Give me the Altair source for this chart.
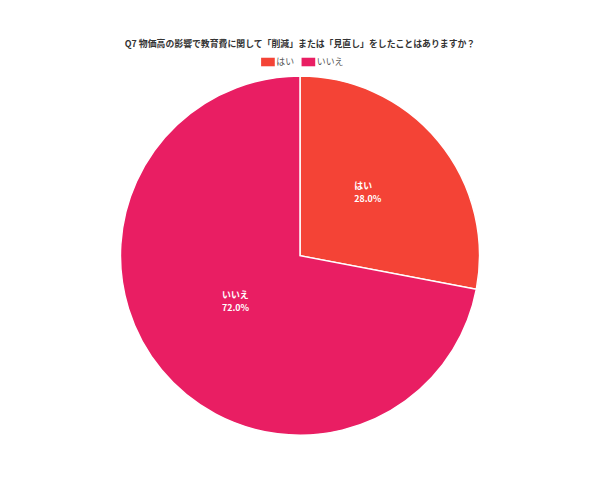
import altair as alt
import pandas as pd

categories = ["はい", "いいえ"]
values = [28.0, 72.0]
colors = ["#F44336", "#E91E63"]

df = pd.DataFrame({
    "answer": categories,
    "value": values,
    "order": list(range(len(categories))),
    "label": [f"{c}\n{v:.1f}%" for c, v in zip(categories, values)],
})

FONT = "Noto Sans CJK JP"

base = alt.Chart(df).encode(
    theta=alt.Theta("value:Q", stack=True),
    order=alt.Order("order:Q"),
)

pie = base.mark_arc(radius=182, stroke="white", strokeWidth=1.5).encode(
    color=alt.Color(
        "answer:N",
        scale=alt.Scale(domain=categories, range=colors),
        sort=categories,
        legend=alt.Legend(
            title=None, orient="none", direction="horizontal",
            legendX=254, legendY=-19,
            symbolType="M-1.6,-1H1.6V1H-1.6Z", symbolSize=75,
            symbolStrokeWidth=0, labelFont=FONT, labelFontSize=9,
            labelColor="#555", columnPadding=6, symbolOffset=0,
        ),
    )
)

text = base.mark_text(
    radius=87, dx=-12, dy=-15, font=FONT, fontSize=9, fontWeight="bold",
    color="white", align="left", baseline="middle", lineBreak="\n",
    lineHeight=13,
).encode(text="label:N")

chart = (pie + text).properties(
    width=582, height=364,
    padding={"top": 30, "left": 5, "right": 5, "bottom": 5},
    title=alt.TitleParams(
        "Q7 物価高の影響で教育費に関して「削減」または「見直し」をしたことはありますか？",
        font=FONT, fontSize=9, fontWeight="bold", color="#333",
        anchor="middle", offset=8,
    ),
).configure_view(stroke=None)

chart.save("out.html", embed_options={"renderer": "svg", "actions": False})
